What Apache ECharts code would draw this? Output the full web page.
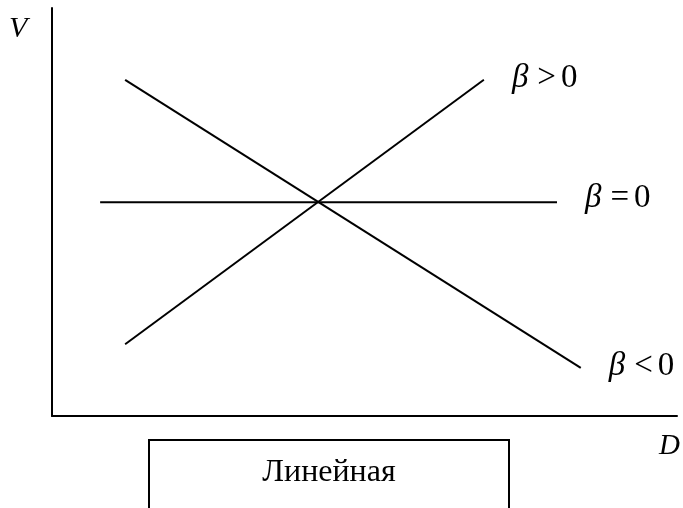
<!DOCTYPE html>
<html>
<head>
<meta charset="utf-8">
<script src="https://cdn.jsdelivr.net/npm/echarts@6/dist/echarts.min.js"></script>
<style>
  html, body { margin: 0; padding: 0; background: #fff; }
  #chart { width: 683px; height: 508px; }
</style>
</head>
<body>
<div id="chart"></div>
<script>
// line endpoints as [D, V] in arbitrary units (0..100 on both axes)
const betaPositive = [[11.7, 17.6], [69.1, 82.4]];
const betaZero = [[7.7, 52.4], [80.8, 52.4]];
const betaNegative = [[11.7, 82.4], [84.6, 11.8]];

const seriesSigns = ['>', '=', '<'];
const labelOffsets = [-1, -4, -2];
const axisNames = ['D', 'V'];
const boxText = 'Линейная';

const serif = '"Liberation Serif", "DejaVu Serif", serif';

function makeLine(sign, data, dy) {
  return {
    name: 'β ' + sign + ' 0',
    type: 'line',
    data: data,
    symbol: 'none',
    silent: true,
    lineStyle: { color: '#000', width: 2 },
    endLabel: {
      show: true,
      distance: 28,
      offset: [0, dy],
      formatter: '{b|β}{s|' + sign + '}{d|0}',
      rich: {
        b: { fontFamily: serif, fontStyle: 'italic', fontSize: 33, color: '#000' },
        s: { fontFamily: serif, fontSize: 33, color: '#000', padding: [0, 5, 0, 9] },
        d: { fontFamily: serif, fontSize: 33, color: '#000' }
      }
    }
  };
}

const chart = echarts.init(document.getElementById('chart'));
chart.setOption({
  animation: false,
  backgroundColor: '#fff',
  grid: { left: 52, top: 8, right: 6, bottom: 92, containLabel: false },
  xAxis: {
    type: 'value', min: 0, max: 100,
    axisLine: { show: true, onZero: false, lineStyle: { color: '#000', width: 2 } },
    axisTick: { show: false }, axisLabel: { show: false }, splitLine: { show: false }
  },
  yAxis: {
    type: 'value', min: 0, max: 100,
    axisLine: { show: true, onZero: false, lineStyle: { color: '#000', width: 2 } },
    axisTick: { show: false }, axisLabel: { show: false }, splitLine: { show: false }
  },
  graphic: [
    {
      type: 'text', left: 9, top: 14,
      style: { text: axisNames[1], font: 'italic 30px ' + serif, fill: '#000' }
    },
    {
      type: 'text', left: 659, top: 432,
      style: { text: axisNames[0], font: 'italic 29px ' + serif, fill: '#000' }
    },
    {
      type: 'rect',
      shape: { x: 149, y: 440, width: 360, height: 90 },
      style: { fill: 'none', stroke: '#000', lineWidth: 2 }
    },
    {
      type: 'text', x: 329, y: 489,
      style: {
        text: boxText, font: '32px ' + serif, fill: '#000',
        textAlign: 'center', textVerticalAlign: 'bottom'
      }
    }
  ],
  series: [
    makeLine(seriesSigns[0], betaPositive, labelOffsets[0]),
    makeLine(seriesSigns[1], betaZero, labelOffsets[1]),
    makeLine(seriesSigns[2], betaNegative, labelOffsets[2])
  ]
});
</script>
</body>
</html>
